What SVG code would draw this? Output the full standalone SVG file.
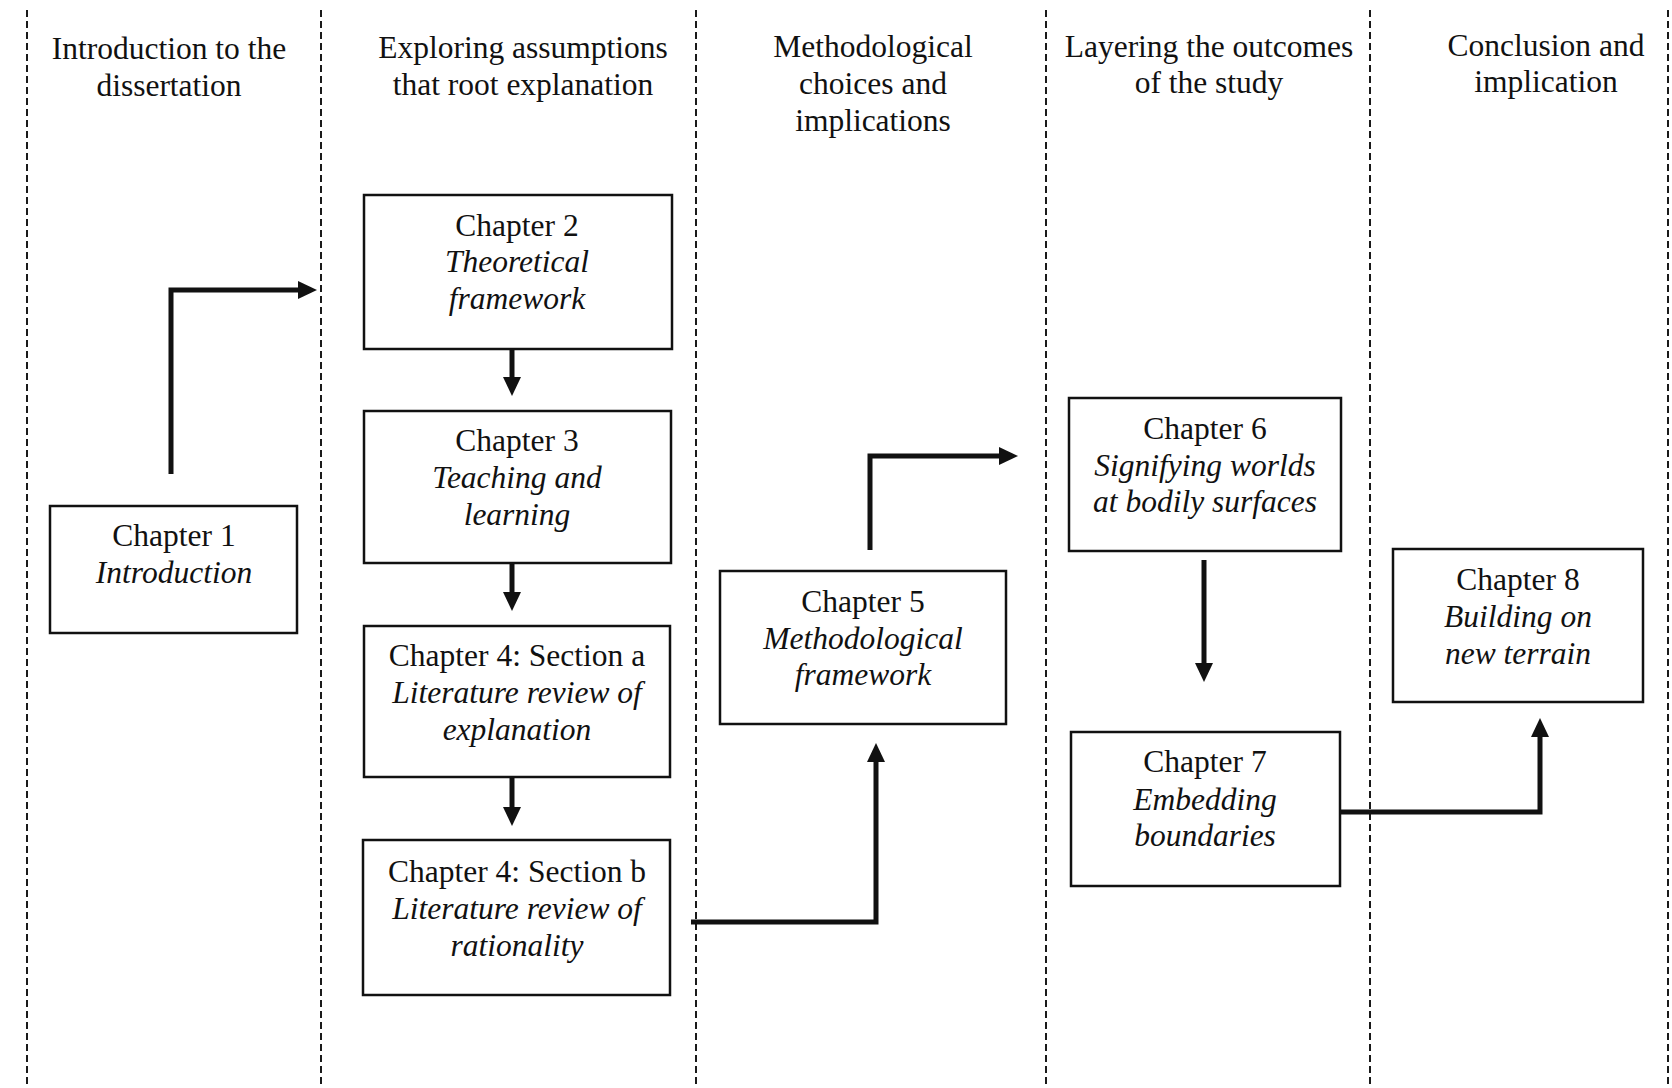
<svg xmlns="http://www.w3.org/2000/svg" width="1672" height="1088" viewBox="0 0 1672 1088">
  <style>
    .lane { stroke: #1a1a1a; stroke-width: 2; stroke-dasharray: 7 4; fill: none; }
    .box { fill: #ffffff; stroke: #111111; stroke-width: 2.5; }
    .head, .t, .ti { font-family: "Liberation Serif", "Times New Roman", serif; font-size: 31.5px; fill: #111111; text-anchor: middle; }
    .ti { font-style: italic; }
    .link { fill: none; stroke: #111111; stroke-width: 5; stroke-linejoin: miter; }
  </style>
  <defs>
    <marker id="arrow" markerUnits="userSpaceOnUse" markerWidth="19" markerHeight="18" refX="1" refY="9" orient="auto">
      <path d="M0,0 L19,9 L0,18 z" fill="#111111"/>
    </marker>
  </defs>
  <rect width="1672" height="1088" fill="#ffffff"/>

  <!-- lane separators -->
  <g id="lanes">
    <line class="lane" x1="27" y1="10" x2="27" y2="1088"/>
    <line class="lane" x1="321" y1="10" x2="321" y2="1088"/>
    <line class="lane" x1="696" y1="10" x2="696" y2="1088"/>
    <line class="lane" x1="1046" y1="10" x2="1046" y2="1088"/>
    <line class="lane" x1="1370" y1="10" x2="1370" y2="1088"/>
    <line class="lane" x1="1668" y1="10" x2="1668" y2="1088"/>
  </g>

  <!-- lane headings -->
  <g id="headings">
    <text class="head" x="169" y="59">Introduction to the</text>
    <text class="head" x="169" y="96">dissertation</text>
    <text class="head" x="523" y="58">Exploring assumptions</text>
    <text class="head" x="523" y="95">that root explanation</text>
    <text class="head" x="873" y="57">Methodological</text>
    <text class="head" x="873" y="94">choices and</text>
    <text class="head" x="873" y="131">implications</text>
    <text class="head" x="1209" y="57">Layering the outcomes</text>
    <text class="head" x="1209" y="93">of the study</text>
    <text class="head" x="1546" y="56">Conclusion and</text>
    <text class="head" x="1546" y="92">implication</text>
  </g>

  <!-- connectors -->
  <g id="connectors">
    <path class="link" d="M171,474 V290 H299" marker-end="url(#arrow)"/>
    <path class="link" d="M512,349 V378" marker-end="url(#arrow)"/>
    <path class="link" d="M512,563 V593" marker-end="url(#arrow)"/>
    <path class="link" d="M512,777 V808" marker-end="url(#arrow)"/>
    <path class="link" d="M691,922 H876 V761" marker-end="url(#arrow)"/>
    <path class="link" d="M870,550 V456 H1000" marker-end="url(#arrow)"/>
    <path class="link" d="M1204,560 V664" marker-end="url(#arrow)"/>
    <path class="link" d="M1341,812 H1540 V736" marker-end="url(#arrow)"/>
  </g>

  <!-- chapter nodes -->
  <g id="ch1">
    <rect class="box" x="50" y="506" width="247" height="127"/>
    <text class="t" x="174" y="546">Chapter 1</text>
    <text class="ti" x="174" y="583">Introduction</text>
  </g>
  <g id="ch2">
    <rect class="box" x="364" y="195" width="308" height="154"/>
    <text class="t" x="517" y="236">Chapter 2</text>
    <text class="ti" x="517" y="272">Theoretical</text>
    <text class="ti" x="517" y="309">framework</text>
  </g>
  <g id="ch3">
    <rect class="box" x="364" y="411" width="307" height="152"/>
    <text class="t" x="517" y="451">Chapter 3</text>
    <text class="ti" x="517" y="488">Teaching and</text>
    <text class="ti" x="517" y="525">learning</text>
  </g>
  <g id="ch4a">
    <rect class="box" x="364" y="626" width="306" height="151"/>
    <text class="t" x="517" y="666">Chapter 4: Section a</text>
    <text class="ti" x="517" y="703">Literature review of</text>
    <text class="ti" x="517" y="740">explanation</text>
  </g>
  <g id="ch4b">
    <rect class="box" x="363" y="840" width="307" height="155"/>
    <text class="t" x="517" y="882">Chapter 4: Section b</text>
    <text class="ti" x="517" y="919">Literature review of</text>
    <text class="ti" x="517" y="956">rationality</text>
  </g>
  <g id="ch5">
    <rect class="box" x="720" y="571" width="286" height="153"/>
    <text class="t" x="863" y="612">Chapter 5</text>
    <text class="ti" x="863" y="649">Methodological</text>
    <text class="ti" x="863" y="685">framework</text>
  </g>
  <g id="ch6">
    <rect class="box" x="1069" y="398" width="272" height="153"/>
    <text class="t" x="1205" y="439">Chapter 6</text>
    <text class="ti" x="1205" y="476">Signifying worlds</text>
    <text class="ti" x="1205" y="512">at bodily surfaces</text>
  </g>
  <g id="ch7">
    <rect class="box" x="1071" y="732" width="269" height="154"/>
    <text class="t" x="1205" y="772">Chapter 7</text>
    <text class="ti" x="1205" y="810">Embedding</text>
    <text class="ti" x="1205" y="846">boundaries</text>
  </g>
  <g id="ch8">
    <rect class="box" x="1393" y="549" width="250" height="153"/>
    <text class="t" x="1518" y="590">Chapter 8</text>
    <text class="ti" x="1518" y="627">Building on</text>
    <text class="ti" x="1518" y="664">new terrain</text>
  </g>
</svg>
